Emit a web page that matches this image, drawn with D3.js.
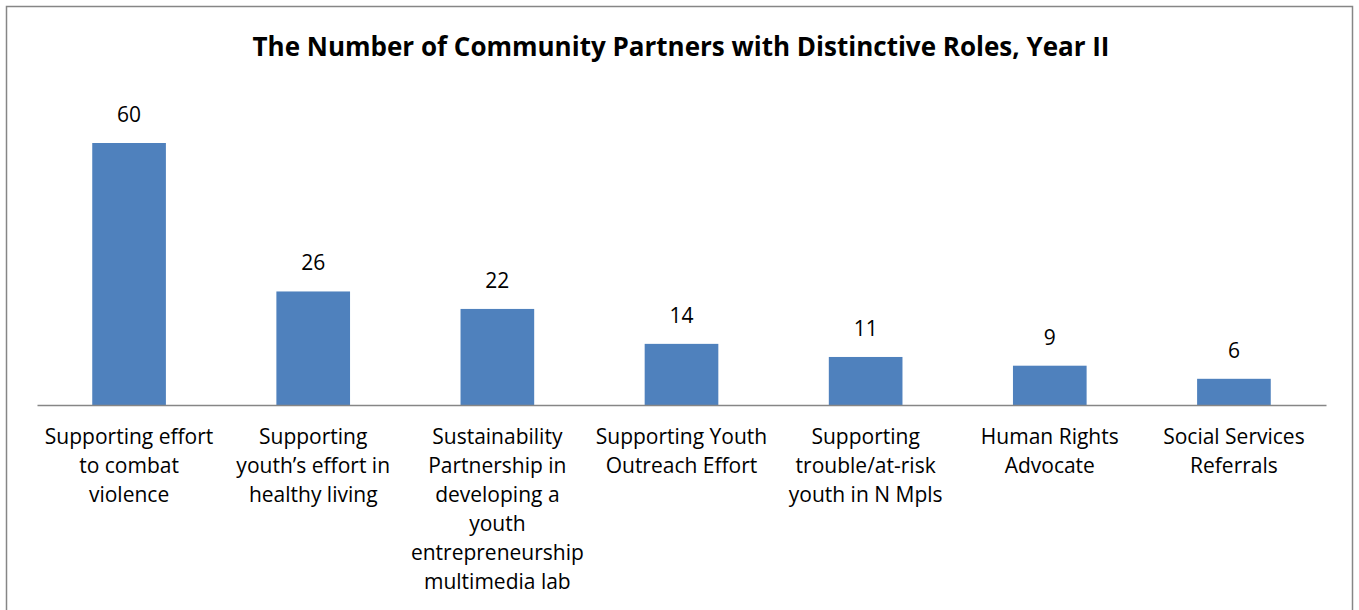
<!DOCTYPE html>
<html>
<head>
<meta charset="utf-8">
<script src="https://cdn.jsdelivr.net/npm/d3@7"></script>
<style>
  html, body { margin: 0; padding: 0; background: #fff; }
  svg { display: block; }
  text { font-family: "Open Sans", Lato, sans-serif; fill: #000; }
</style>
</head>
<body>
<svg id="chart" width="1359" height="610"></svg>
<script>
const chartTitle = "The Number of Community Partners with Distinctive Roles, Year II";

const categories = [
  "Supporting effort to combat violence",
  "Supporting youth’s effort in healthy living",
  "Sustainability Partnership in developing a youth entrepreneurship multimedia lab",
  "Supporting Youth Outreach Effort",
  "Supporting trouble/at-risk youth in N Mpls",
  "Human Rights Advocate",
  "Social Services Referrals"
];

const partnerCounts = [60, 26, 22, 14, 11, 9, 6];

// Category labels broken into lines as they appear under the axis
const labelLines = [
  ["Supporting effort", "to combat", "violence"],
  ["Supporting", "youth’s effort in", "healthy living"],
  ["Sustainability", "Partnership in", "developing a", "youth", "entrepreneurship", "multimedia lab"],
  ["Supporting Youth", "Outreach Effort"],
  ["Supporting", "trouble/at-risk", "youth in N Mpls"],
  ["Human Rights", "Advocate"],
  ["Social Services", "Referrals"]
];

const svg = d3.select("#chart");

// chart area frame
svg.append("rect")
  .attr("x", 6.5).attr("y", 6.5)
  .attr("width", 1346).attr("height", 620)
  .attr("fill", "#fff")
  .attr("stroke", "#868686")
  .attr("stroke-width", 1.5);

svg.append("text")
  .attr("x", 681).attr("y", 56)
  .attr("text-anchor", "middle")
  .attr("font-size", 26)
  .attr("font-weight", "bold")
  .text(chartTitle);

const x = d3.scaleBand()
  .domain(categories)
  .range([37, 1326])
  .paddingInner(0.6)
  .paddingOuter(0.3);

const y = d3.scaleLinear()
  .domain([0, 60])
  .range([405, 143]);

svg.append("g")
  .selectAll("rect")
  .data(categories)
  .join("rect")
  .attr("x", d => x(d))
  .attr("width", x.bandwidth())
  .attr("y", (d, i) => y(partnerCounts[i]))
  .attr("height", (d, i) => y(0) - y(partnerCounts[i]))
  .attr("fill", "#4F81BD");

// value labels
svg.append("g")
  .selectAll("text")
  .data(categories)
  .join("text")
  .attr("x", d => x(d) + x.bandwidth() / 2)
  .attr("y", (d, i) => y(partnerCounts[i]) - 21)
  .attr("text-anchor", "middle")
  .attr("font-size", 21)
  .text((d, i) => partnerCounts[i]);

// category axis
const xAxis = d3.axisBottom(x).tickSize(0).tickFormat("");
const axisG = svg.append("g")
  .attr("transform", `translate(0,${y(0)})`)
  .call(xAxis);
axisG.select(".domain")
  .attr("stroke", "#868686")
  .attr("stroke-width", 1.5);

const tickLabels = svg.append("g")
  .selectAll("text")
  .data(categories)
  .join("text")
  .attr("x", d => x(d) + x.bandwidth() / 2)
  .attr("y", 444)
  .attr("text-anchor", "middle")
  .attr("font-size", 21);

tickLabels.each(function(d, i) {
  d3.select(this).selectAll("tspan")
    .data(labelLines[i])
    .join("tspan")
    .attr("x", x(d) + x.bandwidth() / 2)
    .attr("dy", (t, j) => j === 0 ? 0 : 29)
    .text(t => t);
});
</script>
</body>
</html>
